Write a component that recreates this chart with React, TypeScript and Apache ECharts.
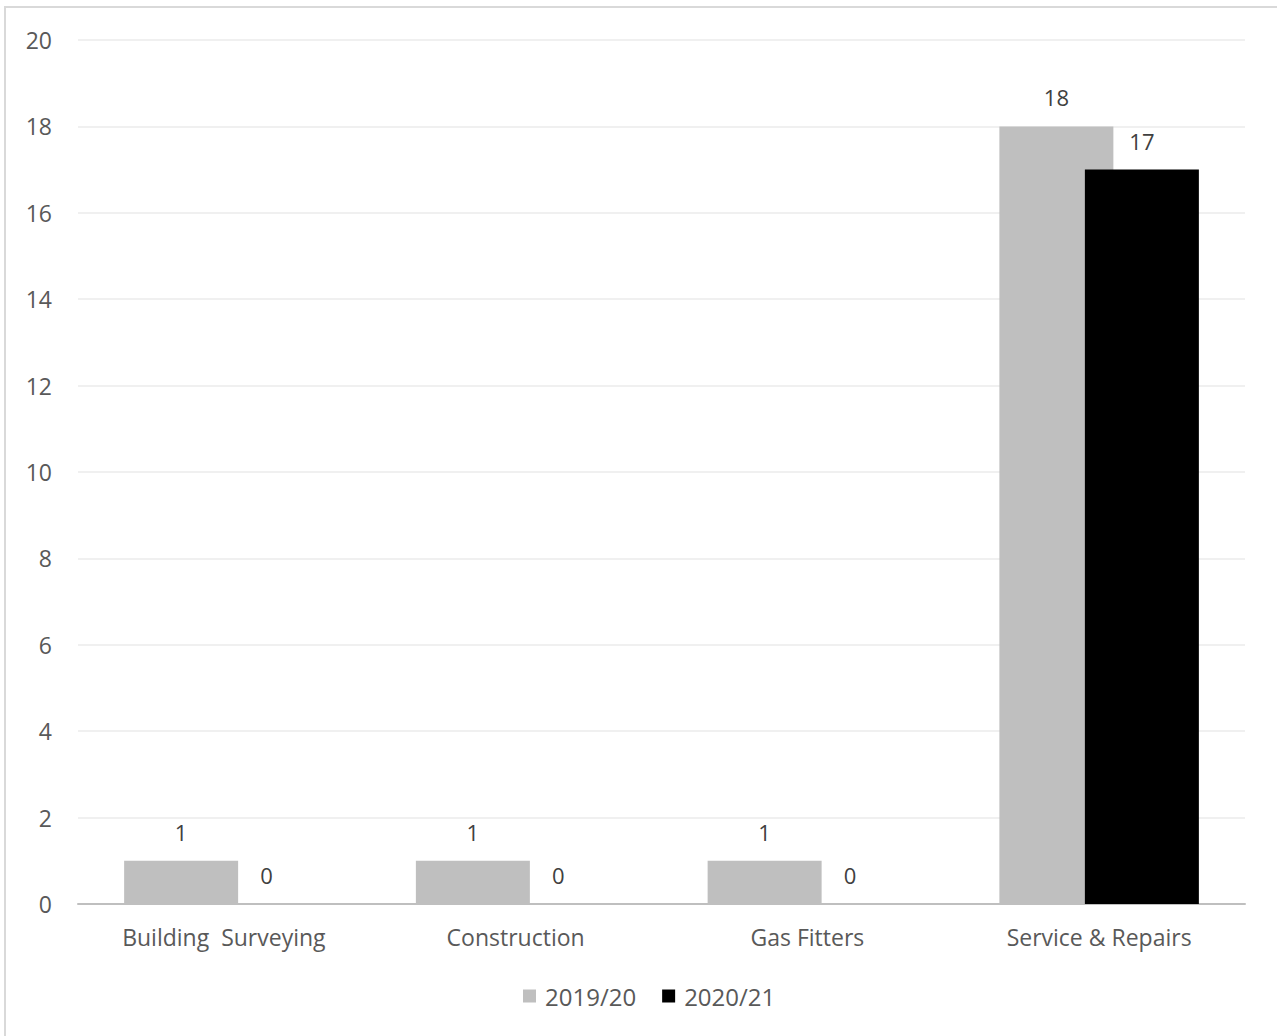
import React, { useEffect, useRef } from "react";
import * as echarts from "echarts";

const categories = ["Building  Surveying", "Construction", "Gas Fitters", "Service & Repairs"];
const series2019 = [1, 1, 1, 18];
const series2020 = [0, 0, 0, 17];
const seriesNames = ["2019/20", "2020/21"];

export default function App() {
  const ref = useRef<HTMLDivElement>(null);
  useEffect(() => {
    const chart = echarts.init(ref.current!, null, { renderer: "svg" });
    const font = "'Open Sans', sans-serif";
    const labelStyle = { show: true, position: "top", distance: 18, color: "#404040", fontSize: 22, fontFamily: font };
    chart.setOption({
      animation: false,
      backgroundColor: "#ffffff",
      grid: { left: 78, right: 32, top: 40, bottom: 132 },
      graphic: [
        {
          type: "rect",
          shape: { x: 5, y: 7, width: 1300, height: 1100 },
          style: { fill: "none", stroke: "#d9d9d9", lineWidth: 2 },
          silent: true,
        },
      ],
      legend: {
        bottom: 23,
        left: 518,
        itemWidth: 13,
        itemHeight: 13,
        itemGap: 26,
        icon: "rect",
        textStyle: { color: "#595959", fontSize: 24, fontFamily: font, padding: [0, 0, 0, 4] },
        data: seriesNames,
      },
      xAxis: {
        type: "category",
        data: categories,
        axisLine: { lineStyle: { color: "#bfbfbf", width: 2 } },
        axisTick: { show: false },
        axisLabel: { color: "#595959", fontSize: 23, fontFamily: font, margin: 21 },
      },
      yAxis: {
        type: "value",
        min: 0,
        max: 20,
        interval: 2,
        axisLine: { show: false },
        axisTick: { show: false },
        splitLine: { lineStyle: { color: "#f0f0f0", width: 2 } },
        axisLabel: { color: "#595959", fontSize: 23, fontFamily: font, margin: 26 },
      },
      series: [
        {
          name: seriesNames[0],
          type: "bar",
          data: series2019,
          barWidth: 114,
          barGap: "-25%",
          itemStyle: { color: "#bfbfbf" },
          label: labelStyle,
        },
        {
          name: seriesNames[1],
          type: "bar",
          data: series2020,
          barWidth: 114,
          itemStyle: { color: "#000000" },
          label: labelStyle,
        },
      ],
    });
    return () => chart.dispose();
  }, []);
  return <div ref={ref} style={{ position: "absolute", left: 0, top: 0, width: 1277, height: 1036 }} />;
}
